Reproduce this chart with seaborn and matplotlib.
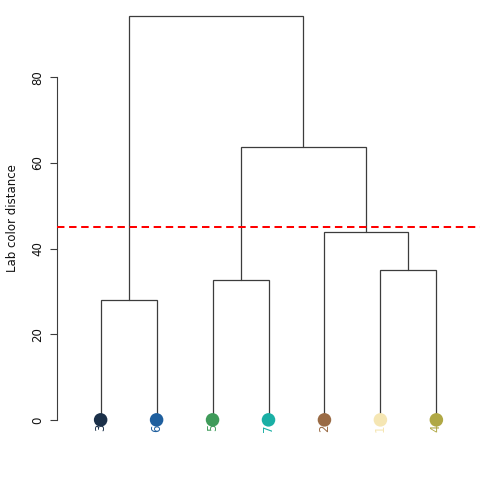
import matplotlib
matplotlib.use("Agg")
import matplotlib.pyplot as plt
import numpy as np
import pandas as pd
import seaborn as sns

# leaves in dendrogram order
leaf_labels = ["3", "6", "5", "7", "2", "1", "4"]
leaf_colors = ["#1b3049", "#1f5f9e", "#3f9b5a", "#1aafa5", "#9a6b45", "#f5e6b3", "#b0a845"]

# merges: (left, right, height); ints >= 0 are leaf indices, negative = earlier merge (-1 is first)
merge_left = [0, 2, 5, 4, -2, -1]
merge_right = [1, 3, 6, -3, -4, -5]
merge_height = [27.9, 32.7, 35.1, 43.8, 63.7, 94.3]

cut_height = 45
y_ticks = [0, 20, 40, 60, 80]
y_label = "Lab color distance"

line_color = "#3c3c3c"

sns.set_theme(style="white")
plt.rcParams['font.family'] = ['DejaVu Sans']

fig = plt.figure(figsize=(4.8, 4.8), dpi=100)
ax = fig.add_axes([57 / 480, 44 / 480, 423 / 480, 436 / 480])

# leaf positions 1..n
leaf_x = list(range(1, len(leaf_labels) + 1))


def node_pos(ref, merged):
    if ref >= 0:
        return leaf_x[ref], 0.0
    return merged[-ref - 1]


merged = []
for left, right, h in zip(merge_left, merge_right, merge_height):
    lx, ly = node_pos(left, merged)
    rx, ry = node_pos(right, merged)
    ax.plot([lx, lx, rx, rx], [ly, h, h, ry], color=line_color, lw=0.9,
            solid_joinstyle='miter', zorder=2)
    merged.append(((lx + rx) / 2, h))

# cut line
ax.axhline(cut_height, color="red", lw=1.45, dashes=(3.7, 2.3), zorder=3)

# colored leaves
leaves_df = pd.DataFrame({'x': leaf_x, 'y': [0] * len(leaf_x), 'label': leaf_labels})
sns.scatterplot(data=leaves_df, x='x', y='y', hue='label', palette=dict(zip(leaf_labels, leaf_colors)),
                s=95, edgecolor='none', legend=False, ax=ax, zorder=4)

for x, lab, col in zip(leaf_x, leaf_labels, leaf_colors):
    ax.annotate(lab, (x, 0), xytext=(0, -3), textcoords='offset points', rotation=90,
                ha='center', va='top', fontsize=8.5, color=col, zorder=3)

n = len(leaf_labels)
pad = n * 0.04
ax.set_xlim(0.5 - pad, n + 0.5 + pad)
top = max(merge_height)
ax.set_ylim(-0.04 * top, top * 1.04)

ax.set_xticks([])
ax.set_yticks(y_ticks)
ax.set_yticklabels([str(t) for t in y_ticks], rotation=90, va='center', fontsize=8.5, color='#111111')
ax.tick_params(axis='y', direction='out', length=5, width=0.8, color=line_color, pad=4, left=True)
ax.set_ylabel(y_label, fontsize=8.5, labelpad=9, color='#111111')
ax.set_xlabel("")

for side in ['top', 'right', 'bottom']:
    ax.spines[side].set_visible(False)
ax.spines['left'].set_bounds(0, 80)
ax.spines['left'].set_color(line_color)
ax.spines['left'].set_linewidth(0.8)
ax.patch.set_alpha(0)

fig.savefig("out.png", dpi=100)
